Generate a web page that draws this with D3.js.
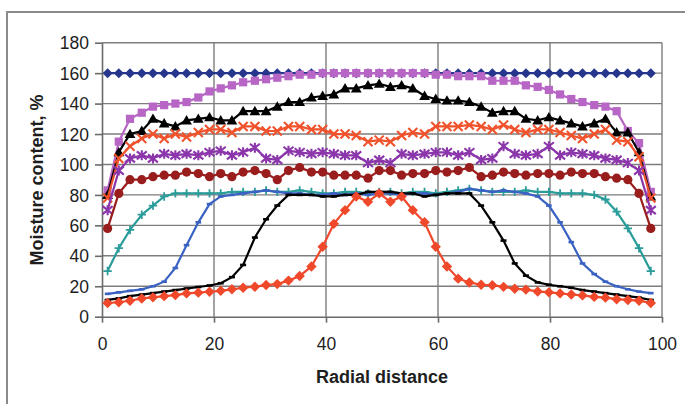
<!DOCTYPE html>
<html>
<head>
<meta charset="utf-8">
<title>Moisture content vs radial distance</title>
<style>
  body { margin: 0; background: #fff; }
  text { font-family: Arial, "Liberation Sans", sans-serif; fill: #1e1e1e; }
  .grid line { stroke: #7d7d7d; stroke-width: 1.4; }
  .axis path, .axis line { stroke: #6a6a6a; stroke-width: 1.6; }
</style>
<script src="https://cdn.jsdelivr.net/npm/d3@7"></script>
</head>
<body>
<script>
// radial positions of the measurement points
var radialDistance = [1.0, 3.0, 5.0, 7.1, 9.1, 11.1, 13.1, 15.1, 17.2, 19.2, 21.2, 23.2, 25.2, 27.3, 29.3, 31.3, 33.3, 35.3, 37.4, 39.4,
  41.4, 43.4, 45.4, 47.5, 49.5, 51.5, 53.5, 55.5, 57.6, 59.6, 61.6, 63.6, 65.6, 67.7, 69.7, 71.7, 73.7, 75.7, 77.8, 79.8,
  81.8, 83.8, 85.8, 87.9, 89.9, 91.9, 93.9, 95.9, 98.0];

var xTicks = [0, 20, 40, 60, 80, 100];
var yTicks = [0, 20, 40, 60, 80, 100, 120, 140, 160, 180];

// moisture content (%) of each profile
var profile1 = [160,160,160,160,160,160,160,160,160,160,160,160,160,160,160,160,160,160,160,160,160,160,160,160,160,
  160,160,160,160,160,160,160,160,160,160,160,160,160,160,160,160,160,160,160,160,160,160,160,160];
var profile2 = [83,115,130,134,138,139,140,141,144,148,150,152,154,155,156,157,158,159,159,160,160,160,160,160,160,
  160,160,160,160,159,159,158,158,158,155,155,155,152,151,149,146,143,141,139,138,135,122,114,82];
var profile3 = [80,108,120,122,130,127,125,129,130,131,129,129,135,135,135,138,141,141,144,145,146,150,150,152,153,
  151,152,150,145,143,142,142,141,138,134,135,135,130,129,131,129,127,125,127,130,121,121,108,79];
var profile4 = [78,104,112,117,120,117,120,118,121,123,123,121,125,125,122,122,125,125,123,123,120,120,119,115,116,
  115,119,121,120,125,125,125,126,125,123,126,123,121,123,123,121,119,117,120,123,116,115,105,78];
var profile5 = [70,96,104,106,104,107,106,107,106,108,109,106,108,111,104,103,109,108,107,108,107,106,106,101,103,
  101,107,106,107,108,108,106,108,103,104,112,107,106,107,112,106,108,107,106,104,103,101,96,70];
var profile6 = [58,81,90,90,92,93,93,95,94,92,94,92,95,96,94,90,96,98,95,95,93,93,93,91,96,
  96,93,94,94,96,95,96,98,92,93,95,94,93,94,94,93,95,94,94,92,91,90,81,58];
var profile7 = [30,45,57,67,73,79,81,81,81,81,81,82,82,82,83,82,82,83,82,81,81,82,82,81,82,
  82,81,82,82,81,82,83,84,83,82,82,82,83,82,82,81,81,81,80,77,69,58,45,30];
var profile8 = [15,16,17,18,20,23,32,47,62,74,79,80,81,82,83,82,81,81,80,80,81,80,81,80,81,
  81,80,81,81,80,81,82,84,83,82,83,82,81,79,73,62,49,35,28,23,20,18,16.5,15.5];
var profile9 = [11,12,13.5,14.5,15.5,16.5,17.5,18.5,19.5,20.5,22,26,34,52,64,73,80,80,80,79,79,80,80,82,82,
  82,81,81,79,80,81,81,81,73,62,50,35,27,22.5,21,20,19,17.5,16.5,15.5,14.5,13.5,12.5,11];
var profile10 = [9,9.5,10.5,12,12.7,13.5,14.2,15.3,15.8,16.4,17,18,19,19.7,20.8,21.4,23.7,26.7,33,46,61,70,79,75.5,81,
  75.5,79,70,62,46,33,25,22.5,21,20.7,19.6,18.4,17.8,16.6,16,15.3,14.6,14,13,12.5,11.5,11,10.5,9];

var series = [
  { values: profile1, color: "#25368c", marker: "diamond", r: 5 },
  { values: profile2, color: "#b866c6", marker: "square", r: 4.1 },
  { values: profile3, color: "#000000", marker: "triangle", r: 5.4 },
  { values: profile4, color: "#f0522c", marker: "cross", r: 4.5 },
  { values: profile5, color: "#8b36aa", marker: "star", r: 5 },
  { values: profile6, color: "#9a1d1d", marker: "circle", r: 4.6 },
  { values: profile7, color: "#2a9c9a", marker: "plus", r: 4.2 },
  { values: profile8, color: "#3a62c2", marker: "dash", r: 2.8 },
  { values: profile9, color: "#000000", marker: "dash", r: 3 },
  { values: profile10, color: "#f0482a", marker: "diamond", r: 5.2 }
];

var width = 685, height = 404;

var svg = d3.select("body").append("svg")
  .attr("width", width)
  .attr("height", height);

// chart frame
svg.append("rect")
  .attr("x", 7).attr("y", 12)
  .attr("width", width + 10).attr("height", height + 10)
  .attr("fill", "#fff")
  .attr("stroke", "#8a8a8a")
  .attr("stroke-width", 2);

var x = d3.scaleLinear().domain([0, 100]).range([102, 662]);
var y = d3.scaleLinear().domain([0, 180]).range([316.7, 42.7]);

// grid
var grid = svg.append("g").attr("class", "grid");
grid.selectAll(".h").data(yTicks.slice(1)).enter().append("line")
  .attr("x1", x(0)).attr("x2", x(100))
  .attr("y1", function(d) { return y(d); })
  .attr("y2", function(d) { return y(d); });
grid.selectAll(".v").data(xTicks.slice(1)).enter().append("line")
  .attr("y1", y(0)).attr("y2", y(180))
  .attr("x1", function(d) { return x(d); })
  .attr("x2", function(d) { return x(d); });

// axes
var xAxis = svg.append("g").attr("class", "axis")
  .attr("transform", "translate(0," + y(0) + ")")
  .call(d3.axisBottom(x).tickValues(xTicks).tickSize(6).tickSizeOuter(0));
var yAxis = svg.append("g").attr("class", "axis")
  .attr("transform", "translate(" + x(0) + ",0)")
  .call(d3.axisLeft(y).tickValues(yTicks).tickSize(7).tickSizeOuter(0));

xAxis.selectAll("text")
  .style("font-size", "17.5px")
  .attr("dy", null)
  .attr("y", 33);
yAxis.selectAll("text")
  .style("font-size", "17.5px")
  .attr("x", -13)
  .attr("dy", "0.35em");

// axis titles
svg.append("text")
  .attr("x", 382).attr("y", 383)
  .attr("text-anchor", "middle")
  .style("font-size", "18px").style("font-weight", "bold")
  .text("Radial distance");
svg.append("text")
  .attr("transform", "translate(43,180) rotate(-90)")
  .attr("text-anchor", "middle")
  .style("font-size", "18px").style("font-weight", "bold")
  .text("Moisture content, %");

// marker drawing
function drawMarker(g, s) {
  var r = s.r;
  if (s.marker === "diamond") {
    g.append("path").attr("d", "M0," + (-r) + "L" + r + ",0L0," + r + "L" + (-r) + ",0Z").attr("fill", s.color);
  } else if (s.marker === "square") {
    g.append("rect").attr("x", -r).attr("y", -r).attr("width", 2 * r).attr("height", 2 * r).attr("fill", s.color);
  } else if (s.marker === "triangle") {
    g.append("path").attr("d", "M0," + (-r) + "L" + r + "," + (r * 0.75) + "L" + (-r) + "," + (r * 0.75) + "Z").attr("fill", s.color);
  } else if (s.marker === "circle") {
    g.append("circle").attr("r", r).attr("fill", s.color);
  } else if (s.marker === "cross") {
    g.append("path").attr("d", "M" + (-r) + "," + (-r) + "L" + r + "," + r + "M" + r + "," + (-r) + "L" + (-r) + "," + r)
      .attr("stroke", s.color).attr("stroke-width", 2.1).attr("fill", "none");
  } else if (s.marker === "star") {
    g.append("path").attr("d", "M" + (-r) + "," + (-r * 0.8) + "L" + r + "," + (r * 0.8) + "M" + r + "," + (-r * 0.8) + "L" + (-r) + "," + (r * 0.8) + "M0," + (-r) + "L0," + r)
      .attr("stroke", s.color).attr("stroke-width", 2.1).attr("fill", "none");
  } else if (s.marker === "plus") {
    g.append("path").attr("d", "M" + (-r) + ",0L" + r + ",0M0," + (-r) + "L0," + r)
      .attr("stroke", s.color).attr("stroke-width", 1.8).attr("fill", "none");
  } else if (s.marker === "dash") {
    g.append("path").attr("d", "M" + (-r) + ",0L" + r + ",0")
      .attr("stroke", s.color).attr("stroke-width", 2.6).attr("fill", "none");
  }
}

var line = d3.line()
  .x(function(d, i) { return x(radialDistance[i]); })
  .y(function(d) { return y(d); });

series.forEach(function(s) {
  var g = svg.append("g");
  g.append("path")
    .datum(s.values)
    .attr("d", line)
    .attr("fill", "none")
    .attr("stroke", s.color)
    .attr("stroke-width", 2.2);
  g.selectAll("g.m").data(s.values).enter().append("g")
    .attr("class", "m")
    .attr("transform", function(d, i) { return "translate(" + x(radialDistance[i]) + "," + y(d) + ")"; })
    .each(function() { drawMarker(d3.select(this), s); });
});
</script>
</body>
</html>
